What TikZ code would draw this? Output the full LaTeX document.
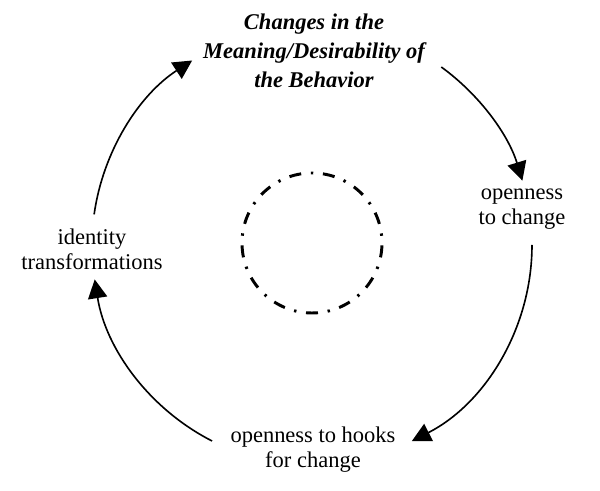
\documentclass[tikz,border=0pt]{standalone}
\usepackage{fontspec}
\setmainfont{Liberation Serif}
\usetikzlibrary{positioning, arrows.meta}

\begin{document}
\begin{tikzpicture}[
    txt/.style={align=center, font=\fontsize{16}{17.8}\selectfont},
    head/.style={align=center, font=\fontsize{16}{20.6}\selectfont\bfseries\itshape},
    arrow/.style={-{Triangle[length=4.7mm, width=4.8mm]}, line width=1.15pt},
    ring/.style={circle, draw=black, line width=2.1pt, minimum size=3.5cm,
                 dash pattern=on 0.3cm off 0.243cm on 0.06cm off 0.243cm, dash phase=0.363cm}
]

    \useasboundingbox (-7.8, -6.15) rectangle (7.2, 6.125);

    % Title
    \node[head] (meaning) at (0.05, 4.85) {Changes in the\\Meaning/Desirability of\\the Behavior};

    % Labels
    \node[txt] (open) at (5.25, 0.89) {openness\\to change};
    \node[txt] (hooks) at (0.025, -5.11) {openness to hooks\\for change};
    \node[txt] (identity) at (-5.5, -0.1) {identity\\transformations};

    % Inner circle
    \node[ring] (core) at (0, 0.05) {};

    % Arc starts
    \coordinate (from-meaning) at (54:5.5);
    \coordinate (from-open) at (0:5.5);
    \coordinate (from-hooks) at (-117:5.5);
    \coordinate (from-identity) at (172:5.5);

    % Cycle arrows
    \draw[arrow] (from-meaning) arc[start angle=54, end angle=17, radius=5.5];
    \draw[arrow] (from-open) arc[start angle=0, end angle=-63, radius=5.5];
    \draw[arrow] (from-hooks) arc[start angle=-117, end angle=-171, radius=5.5];
    \draw[arrow] (from-identity) arc[start angle=172, end angle=123, radius=5.5];

\end{tikzpicture}
\end{document}
